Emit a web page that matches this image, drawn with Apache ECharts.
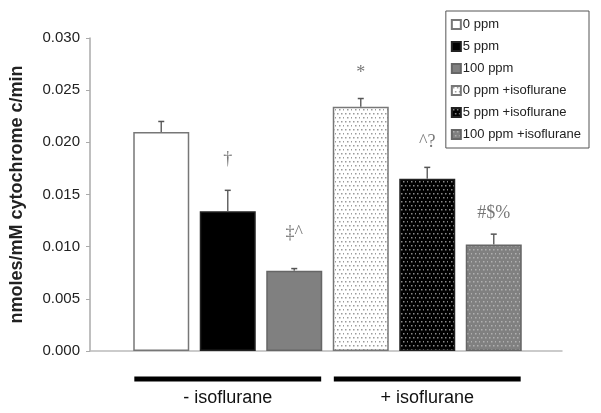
<!DOCTYPE html>
<html>
<head>
<meta charset="utf-8">
<script src="https://cdn.jsdelivr.net/npm/echarts@6/dist/echarts.min.js"></script>
<style>
html, body { margin: 0; padding: 0; background: #fff; }
#chart { width: 601px; height: 413px; }
</style>
</head>
<body>
<div id="chart"></div>
<script>
// bar groups
var names = ['0 ppm', '5 ppm', '100 ppm', '0 ppm +isoflurane', '5 ppm +isoflurane', '100 ppm +isoflurane'];
var means = [0.0210, 0.0134, 0.0077, 0.0234, 0.0165, 0.0102];
var errTops = [0.0220, 0.0154, 0.0079, 0.0242, 0.0176, 0.0112];
// significance marks and the height they sit at
var marks = ['', '\u2020', '\u2021^', '*', '^?', '#$%'];
var markY = [null, 0.0184, 0.0113, 0.0266, 0.0200, 0.0132];
var groups = [[0, 2, '- isoflurane'], [3, 5, '+ isoflurane']];
var yTicks = { min: 0, max: 0.03, step: 0.005 };

function dots(bg, dot) {
  var c = document.createElement('canvas');
  c.width = 8; c.height = 8;
  var g = c.getContext('2d');
  g.fillStyle = bg; g.fillRect(0, 0, 8, 8);
  g.fillStyle = dot;
  g.fillRect(1, 1, 1.5, 1.5);
  g.fillRect(5, 1, 1.5, 1.5);
  g.fillRect(3, 5, 1.5, 1.5);
  g.fillRect(7, 5, 1.5, 1.5);
  return { image: c, repeat: 'repeat' };
}

var fills = ['#ffffff', '#000000', '#808080', dots('#ffffff', '#9a9a9a'), dots('#000000', '#8a8a8a'), dots('#808080', '#b0b0b0')];
var borders = ['#777', '#222', '#666', '#777', '#222', '#666'];

var chart = echarts.init(document.getElementById('chart'));

var series = names.map(function (n, i) {
  return {
    name: n,
    type: 'bar',
    barWidth: 56,
    barGap: '-100%',
    data: means.map(function (v, j) { return j === i ? v : '-'; }),
    itemStyle: { color: fills[i], borderColor: borders[i], borderWidth: 1.5 }
  };
});

series.push({
  type: 'custom',
  name: 'err',
  renderItem: function (params, api) {
    var top = api.coord([api.value(0), api.value(2)]);
    var bot = api.coord([api.value(0), api.value(1)]);
    return {
      type: 'group',
      children: [
        { type: 'line', shape: { x1: bot[0], y1: bot[1], x2: top[0], y2: top[1] }, style: { stroke: '#666', lineWidth: 1.5 } },
        { type: 'line', shape: { x1: top[0] - 3, y1: top[1], x2: top[0] + 3, y2: top[1] }, style: { stroke: '#555', lineWidth: 1.5 } }
      ]
    };
  },
  data: means.map(function (v, i) { return [i, v, errTops[i]]; }),
  z: 3
});

series.push({
  type: 'scatter',
  symbolSize: 0,
  data: markY.map(function (v, i) { return [i, v == null ? '-' : v]; }),
  label: {
    show: true,
    position: 'inside',
    formatter: function (p) { return marks[p.dataIndex]; },
    fontFamily: 'Liberation Serif',
    fontSize: 18,
    color: '#555'
  }
});

series.push({
  type: 'custom',
  name: 'groups',
  clip: false,
  renderItem: function (params, api) {
    var a = api.coord([api.value(0), 0]);
    var b = api.coord([api.value(1), 0]);
    var half = api.size([1, 0])[0] * 0.42;
    var x1 = a[0] - half + 1, x2 = b[0] + half - 1;
    return {
      type: 'group',
      children: [
        { type: 'line', shape: { x1: x1, y1: a[1] + 28, x2: x2, y2: a[1] + 28 }, style: { stroke: '#000', lineWidth: 5 } },
        { type: 'text', style: { x: (x1 + x2) / 2, y: a[1] + 47, text: groups[params.dataIndex][2], align: 'center', verticalAlign: 'middle', fontFamily: 'Liberation Sans', fontSize: 18, fill: '#111' } }
      ]
    };
  },
  data: groups.map(function (g) { return [g[0], g[1]]; })
});

chart.setOption({
  animation: false,
  textStyle: { fontFamily: 'Liberation Sans' },
  grid: [
    { left: 128, right: 74, top: 38, bottom: 62 },
    { left: 90, right: 39, top: 38, bottom: 62 }
  ],
  legend: {
    data: names,
    orient: 'vertical',
    icon: 'rect',
    right: 12,
    top: 11,
    borderColor: '#555',
    borderWidth: 1,
    padding: [7, 8, 7, 5],
    itemWidth: 9,
    itemHeight: 9,
    itemGap: 9,
    textStyle: { fontSize: 13, color: '#222', padding: [0, 0, 0, -3] }
  },
  xAxis: [
    {
      type: 'category',
      data: names,
      gridIndex: 0,
      axisLine: { show: false },
      axisTick: { show: false },
      axisLabel: { show: false }
    },
    {
      type: 'value',
      gridIndex: 1,
      axisLine: { show: true, lineStyle: { color: '#bbb', width: 1.5 } },
      axisTick: { show: false },
      axisLabel: { show: false },
      splitLine: { show: false }
    }
  ],
  yAxis: [
    {
      type: 'value',
      gridIndex: 0,
      min: yTicks.min,
      max: yTicks.max,
      interval: yTicks.step,
      offset: 38,
      name: 'nmoles/mM cytochrome c/min',
      nameLocation: 'middle',
      nameGap: 64,
      nameTextStyle: { fontSize: 18, fontWeight: 'bold', color: '#222' },
      axisLine: { show: true, lineStyle: { color: '#aaa', width: 1.5 } },
      axisTick: { show: true, length: 4, lineStyle: { color: '#aaa' } },
      axisLabel: { fontSize: 15, color: '#222', margin: 10, formatter: function (v) { return v.toFixed(3); } },
      splitLine: { show: false }
    },
    { type: 'value', gridIndex: 1, show: false }
  ],
  series: series
});
</script>
</body>
</html>
